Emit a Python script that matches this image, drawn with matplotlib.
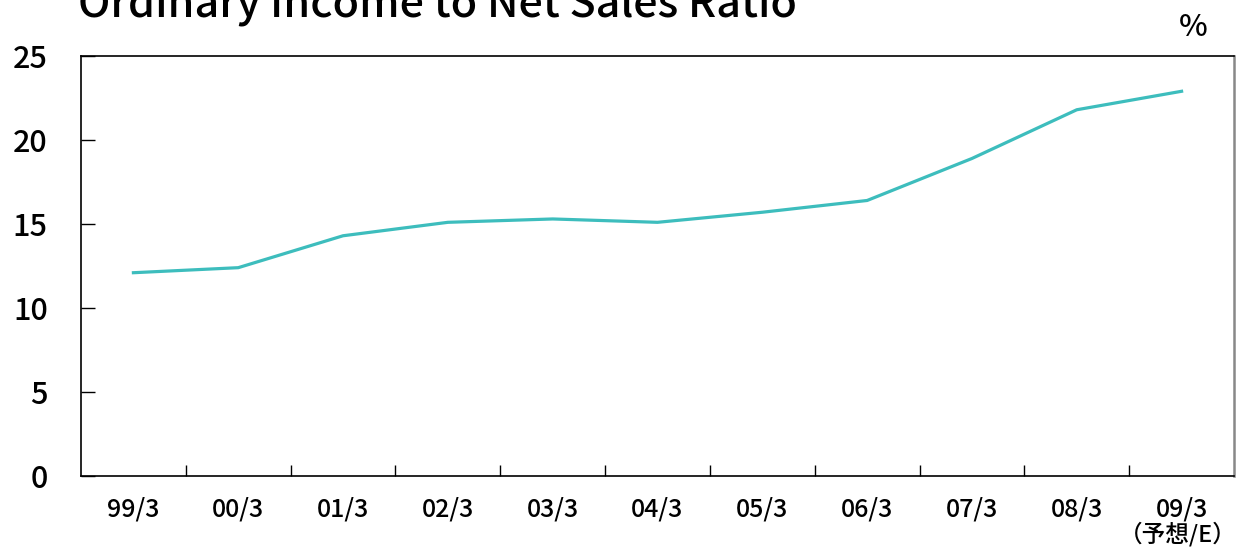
import matplotlib
matplotlib.use("Agg")
import matplotlib.pyplot as plt
import numpy as np

plt.rcParams['font.family'] = ['Noto Sans CJK JP', 'DejaVu Sans']
plt.rcParams['font.weight'] = 'medium'

periods = ["99/3", "00/3", "01/3", "02/3", "03/3", "04/3", "05/3", "06/3", "07/3", "08/3", "09/3"]
estimate_note = "（予想/E）"
ratio = [12.1, 12.4, 14.3, 15.1, 15.3, 15.1, 15.7, 16.4, 18.9, 21.8, 22.9]
yticks = [0, 5, 10, 15, 20, 25]

fig = plt.figure(figsize=(12.36, 5.56), dpi=100)
ax = fig.add_axes([81/1236, 1-476/556, 1153/1236, 420/556])

x = np.arange(len(periods))
ax.plot(x, ratio, color="#3DBDBD", lw=2.3, solid_joinstyle="round")

ax.set_xlim(-0.5, len(periods) - 0.5)
ax.set_ylim(0, 25)
ax.set_yticks(yticks)
ax.set_yticklabels([str(v) for v in yticks], fontsize=22)
ax.tick_params(axis="y", direction="in", length=10, width=1, pad=24)

ax.set_xticks(x)
ax.set_xticklabels(periods, fontsize=18)
ax.tick_params(axis="x", which="major", length=0, pad=15)
ax.set_xticks(np.arange(0.5, len(periods) - 1, 1), minor=True)
ax.tick_params(axis="x", which="minor", direction="in", length=8, width=1)

# forecast note under the last label
ax.annotate(estimate_note, xy=(x[-1], 0), xycoords=("data", "axes fraction"),
            xytext=(-4, -58), textcoords="offset pixels",
            ha="center", va="center", fontsize=17)

for s in ax.spines.values():
    s.set_linewidth(1.2)
ax.spines["right"].set_color("#888888")
ax.spines["right"].set_linewidth(1.8)

fig.text(78/1236, 1-16/556, "Ordinary Income to Net Sales Ratio", fontsize=31,
         ha="left", va="baseline")
fig.text(1193/1236, 1-27/556, "%", fontsize=22, ha="center", va="center")

fig.savefig("out.png", dpi=100)
